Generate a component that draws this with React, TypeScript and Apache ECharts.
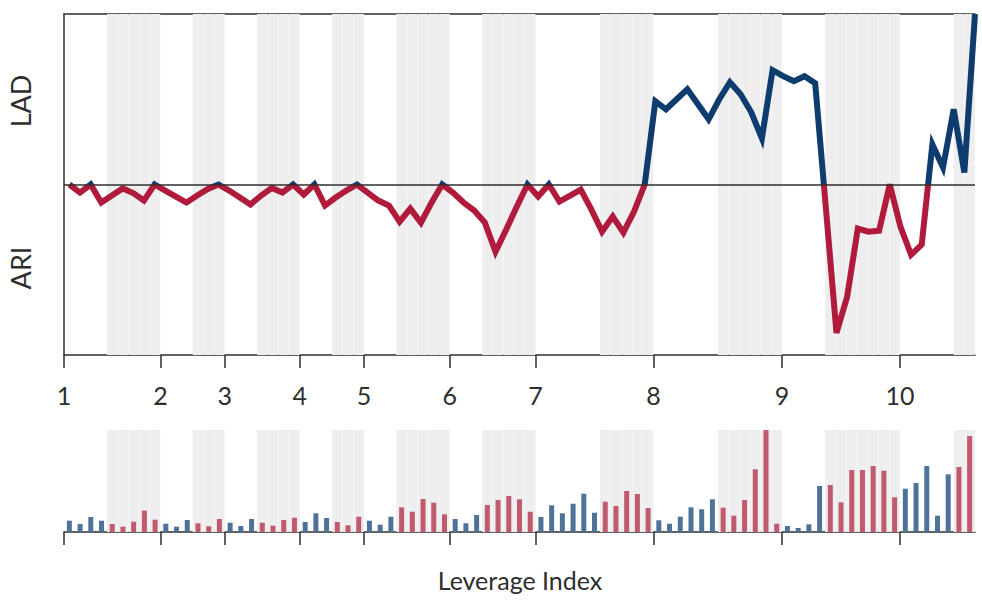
import React, { useEffect, useRef } from 'react';
import * as echarts from 'echarts';

// Leverage line, one point per step (above zero = LAD, below = ARI)
const leverageLine = [
  0, -0.8, 0, -1.8, -1.1, -0.4, -0.85, -1.6, 0, -0.6,
  -1.2, -1.8, -1.1, -0.45, 0, -0.6, -1.3, -2.0, -1.1, -0.35,
  -0.8, 0, -1.0, 0, -2.1, -1.3, -0.6, 0, -0.8, -1.6,
  -2.1, -3.7, -2.4, -3.8, -1.8, 0, -0.8, -1.8, -2.6, -3.8,
  -6.7, -4.5, -2.2, 0, -1.2, 0, -1.7, -1.1, -0.5, -2.5,
  -4.7, -3.2, -4.8, -2.7, 0, 8.3, 7.5, 8.5, 9.5, 8.0,
  6.5, 8.5, 10.2, 9.0, 7.2, 4.6, 11.4, 10.8, 10.3, 10.8,
  10.1, -2.3, -14.8, -11.2, -4.4, -4.7, -4.6, 0, -4.2, -7.0,
  -6.0, 4.0, 1.7, 7.5, 1.2, 17,
];

// Bar heights in the lower panel
const scoreBars = [
  11.3, 8, 15, 11.3, 8, 5.3, 10.3, 21.3, 12.3, 8.3,
  5.3, 12, 8.7, 5.7, 13, 9.3, 6, 13, 9.3, 6.3,
  12, 14.3, 10, 18.7, 14, 10, 6.7, 15.3, 11.3, 7.3,
  15.3, 24.7, 20.3, 33, 29.3, 17.7, 13, 8.7, 17, 27,
  32, 36, 32.7, 20.3, 15, 26.7, 18.7, 28.3, 38.3, 19.3,
  30.3, 26, 41, 38, 24, 11.7, 8.3, 15.3, 24.7, 22.7,
  32.7, 24.3, 16.3, 32, 62.7, 102, 8.3, 6, 4, 7.7,
  46, 47, 29.7, 62, 62, 66, 61.3, 34.7, 43.3, 49,
  66, 16.3, 57.7, 65, 96,
];

// shaded periods, [start, end) in bar steps
const shadedBands: [number, number][] = [
  [4, 9], [12, 15], [18, 22], [25, 28], [31, 36],
  [39, 44], [50, 55], [61, 67], [71, 78], [83, 85],
];

// ticks sit on bar boundaries
const tickPositions = [0, 9, 15, 22, 28, 36, 44, 55, 67, 78];
const tickLabels = ['1', '2', '3', '4', '5', '6', '7', '8', '9', '10'];

const LINE_MIN = -17;
const LINE_MAX = 17;
const BAR_MAX = 102;

const RED = '#b01a3b';
const NAVY = '#0f3c6e';
const BAR_RED = '#c05a6e';
const BAR_BLUE = '#4e7399';
const BAND = '#eeeeee';
const INK = '#2e2e2e';
const FONT = 'Lato, "Open Sans", sans-serif';

const App: React.FC = () => {
  const chartRef = useRef<HTMLDivElement>(null);

  useEffect(() => {
    if (!chartRef.current) return;
    const chart = echarts.init(chartRef.current, undefined, { renderer: 'svg' });

    const categories = scoreBars.map((_, i) => String(i));
    // one entry per boundary, 0..85
    const boundaries = [...categories, String(scoreBars.length)];
    const inBand = (i: number) => shadedBands.some(([a, b]) => i >= a && i < b);
    const isTick = (idx: number) => tickPositions.includes(idx);

    const axisLineStyle = { color: INK, width: 1.5 };

    const tickAxis = (gridIndex: number, withLabels: boolean) => ({
      gridIndex,
      type: 'category',
      data: boundaries,
      boundaryGap: false,
      position: 'bottom',
      axisLine: { show: true, onZero: false, lineStyle: axisLineStyle },
      axisTick: { show: true, interval: isTick, length: 13, lineStyle: axisLineStyle },
      axisLabel: {
        show: withLabels,
        interval: isTick,
        formatter: (_v: string, idx: number) => tickLabels[tickPositions.indexOf(idx)] ?? '',
        fontSize: 25,
        fontFamily: FONT,
        color: INK,
        margin: 27,
      },
      splitLine: { show: false },
    });

    const sideLabel = (text: string, y: number) => ({
      type: 'text',
      x: 20,
      y,
      rotation: Math.PI / 2,
      style: {
        text,
        fontSize: 27,
        fontFamily: FONT,
        fill: INK,
        textAlign: 'center',
        textVerticalAlign: 'middle',
      },
    });

    const option = {
      animation: false,
      grid: [
        { left: 64, right: 7, top: 14, height: 341 },
        { left: 64, right: 7, top: 430, height: 102 },
      ],
      xAxis: [
        // 0: visible tick axis, upper panel
        tickAxis(0, true),
        // 1: band categories, upper panel
        { gridIndex: 0, type: 'category', data: categories, show: false },
        // 2: line steps, upper panel (draws the top border)
        {
          gridIndex: 0,
          type: 'value',
          min: -0.5,
          max: 85,
          position: 'top',
          axisLine: { show: true, onZero: false, lineStyle: axisLineStyle },
          axisTick: { show: false },
          axisLabel: { show: false },
          splitLine: { show: false },
        },
        // 3: visible tick axis, lower panel
        tickAxis(1, false),
        // 4: bar categories, lower panel
        { gridIndex: 1, type: 'category', data: categories, show: false },
        // 5: band categories, lower panel
        { gridIndex: 1, type: 'category', data: categories, show: false },
      ],
      yAxis: [
        {
          gridIndex: 0,
          type: 'value',
          min: LINE_MIN,
          max: LINE_MAX,
          axisLine: { show: true, onZero: false, lineStyle: axisLineStyle },
          axisTick: { show: false },
          axisLabel: { show: false },
          splitLine: { show: false },
        },
        { gridIndex: 0, type: 'value', min: 0, max: 1, show: false },
        { gridIndex: 1, type: 'value', min: 0, max: BAR_MAX, show: false },
      ],
      visualMap: {
        type: 'piecewise',
        show: false,
        seriesIndex: 3,
        dimension: 1,
        pieces: [
          { gte: -1000, lt: 0, color: RED },
          { gte: 0, lte: 1000, color: NAVY },
        ],
      },
      series: [
        {
          type: 'bar',
          xAxisIndex: 1,
          yAxisIndex: 1,
          data: categories.map((_, i) => (inBand(i) ? 1 : '-')),
          barCategoryGap: '3%',
          itemStyle: { color: BAND },
          silent: true,
          z: 1,
        },
        {
          type: 'bar',
          xAxisIndex: 5,
          yAxisIndex: 2,
          data: categories.map((_, i) => (inBand(i) ? BAR_MAX : '-')),
          barCategoryGap: '3%',
          itemStyle: { color: BAND },
          silent: true,
          z: 1,
        },
        {
          type: 'bar',
          xAxisIndex: 4,
          yAxisIndex: 2,
          barWidth: 5,
          data: scoreBars.map((v, i) => ({
            value: v,
            itemStyle: { color: inBand(i) ? BAR_RED : BAR_BLUE },
          })),
          z: 2,
        },
        {
          type: 'line',
          xAxisIndex: 2,
          yAxisIndex: 0,
          data: leverageLine.map((v, i) => [i, v]),
          showSymbol: false,
          symbol: 'none',
          lineStyle: { width: 6, join: 'miter' },
          z: 3,
          markLine: {
            silent: true,
            symbol: 'none',
            label: { show: false },
            lineStyle: { color: INK, width: 1.5, type: 'solid' },
            data: [{ yAxis: 0 }],
          },
        },
      ],
      graphic: [
        sideLabel('LAD', 101),
        sideLabel('ARI', 268),
        {
          type: 'text',
          x: 520,
          y: 580,
          style: {
            text: 'Leverage Index',
            fontSize: 25,
            fontFamily: FONT,
            fill: INK,
            textAlign: 'center',
            textVerticalAlign: 'middle',
          },
        },
      ],
    };

    chart.setOption(option);

    return () => {
      chart.dispose();
    };
  }, []);

  return (
    <div
      ref={chartRef}
      style={{ position: 'fixed', left: 0, top: 0, width: 982, height: 600, background: '#fff' }}
    />
  );
};

export default App;
